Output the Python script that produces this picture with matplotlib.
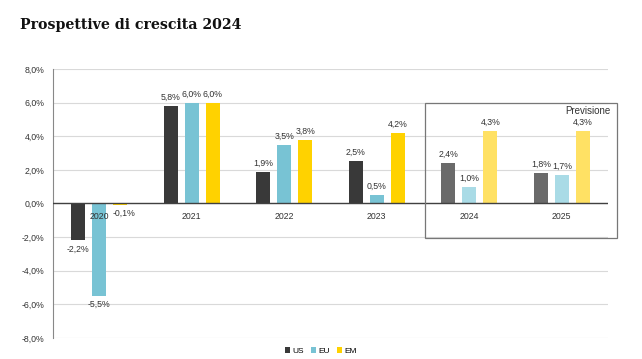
import matplotlib.pyplot as plt
from matplotlib.patches import Rectangle
import numpy as np

plt.rcParams['font.family'] = ['Liberation Sans', 'DejaVu Sans']

years = ['2020', '2021', '2022', '2023', '2024', '2025']
us = [-2.2, 5.8, 1.9, 2.5, 2.4, 1.8]
eu = [-5.5, 6.0, 3.5, 0.5, 1.0, 1.7]
em = [-0.1, 6.0, 3.8, 4.2, 4.3, 4.3]
forecast = [False, False, False, False, True, True]

colors = {
    'US': ('#393939', '#6a6a6a'),
    'EU': ('#78c3d4', '#a9dbe6'),
    'EM': ('#ffd200', '#ffe164'),
}
series = [('US', us), ('EU', eu), ('EM', em)]

fig = plt.figure(figsize=(6.42, 3.59), dpi=100)
ax = fig.add_axes([0.0826, 0.0585, 0.8644, 0.7495])

x = np.arange(len(years))
w = 0.15
step = 0.227
for k, (name, vals) in enumerate(series):
    pos = x + (k - 1) * step
    cols = [colors[name][1] if f else colors[name][0] for f in forecast]
    ax.bar(pos, vals, width=w, color=cols, zorder=3)
    for p, v in zip(pos, vals):
        lbl = f'{v:.1f}%'.replace('.', ',')
        if v < 0:
            ax.annotate(lbl, (p + (0.04 if v > -0.5 else 0), v), xytext=(0, -3),
                        textcoords='offset points',
                        ha='center', va='top', fontsize=6.3, color='#333333')
        else:
            ax.annotate(lbl, (p, v), xytext=(0, 3), textcoords='offset points',
                        ha='center', va='bottom', fontsize=6.3, color='#333333')

# legend handles
for name, _ in series:
    ax.bar(0, 0, width=0, color=colors[name][0], label=name)

ax.set_xlim(-0.5, len(years) - 0.5)
ax.set_ylim(-8, 8)
ax.set_yticks(np.arange(-8, 9, 2))
ax.set_yticklabels([f'{t:.1f}%'.replace('.', ',') for t in np.arange(-8, 9, 2)],
                   fontsize=6.3, color='#333333')
ax.grid(axis='y', color='#d9d9d9', linewidth=0.8, zorder=0)
ax.axhline(0, color='#404040', linewidth=1.0, zorder=4)
ax.set_xticks([])
for i, yr in enumerate(years):
    ax.text(i, -0.5, yr, ha='center', va='top', fontsize=6.3, color='#333333')

for s in ['top', 'right', 'bottom']:
    ax.spines[s].set_visible(False)
ax.spines['left'].set_color('#888888')
ax.tick_params(axis='y', length=0, pad=6)

# forecast box
box = Rectangle((425 / 642, 1 - 238 / 359), 192 / 642, 135 / 359,
                transform=fig.transFigure, fill=False, edgecolor='#777777',
                linewidth=0.9)
fig.patches.append(box)
fig.text(611 / 642, 1 - 111 / 359, 'Previsione', ha='right', va='center',
         fontsize=7, color='#333333')

fig.text(20 / 642, 1 - 25 / 359, 'Prospettive di crescita 2024',
         family='DejaVu Serif', fontweight='bold', fontsize=10.2,
         ha='left', va='center', color='#111111')

fig.legend(loc='center', bbox_to_anchor=(0.5, 1 - 351 / 359), ncol=3,
           frameon=False, fontsize=6, handlelength=0.6, handleheight=0.6,
           handletextpad=0.3, columnspacing=0.8)

fig.savefig('out.png', dpi=100)
